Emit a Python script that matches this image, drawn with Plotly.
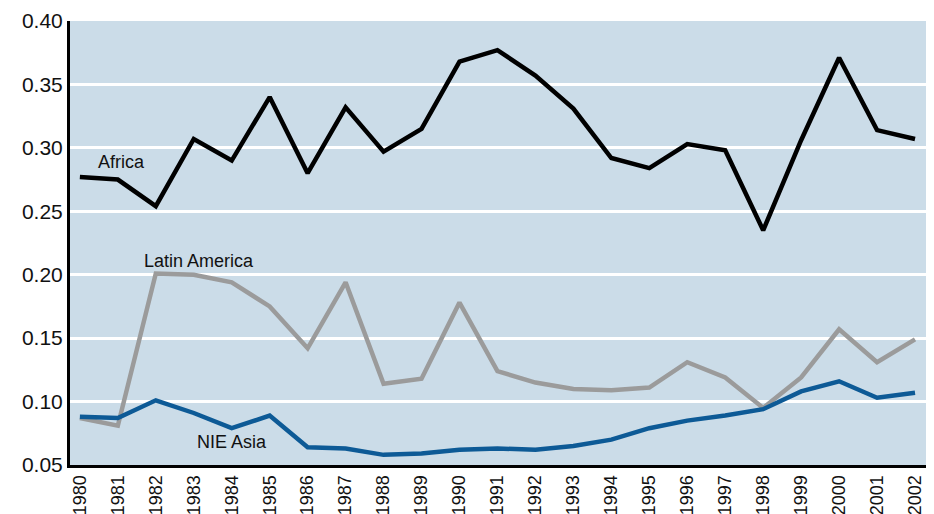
import plotly.graph_objs as go

# Data
years = list(range(1980, 2003))

africa = [0.277, 0.275, 0.254, 0.307, 0.290, 0.340, 0.280, 0.332, 0.297, 0.315,
          0.368, 0.377, 0.357, 0.331, 0.292, 0.284, 0.303, 0.298, 0.235, 0.306,
          0.371, 0.314, 0.307]

latin_america = [0.087, 0.081, 0.201, 0.200, 0.194, 0.175, 0.142, 0.194, 0.114, 0.118,
                 0.178, 0.124, 0.115, 0.110, 0.109, 0.111, 0.131, 0.119, 0.095, 0.119,
                 0.157, 0.131, 0.149]

nie_asia = [0.088, 0.087, 0.101, 0.091, 0.079, 0.089, 0.064, 0.063, 0.058, 0.059,
            0.062, 0.063, 0.062, 0.065, 0.070, 0.079, 0.085, 0.089, 0.094, 0.108,
            0.116, 0.103, 0.107]

y_ticks = [0.05, 0.10, 0.15, 0.20, 0.25, 0.30, 0.35, 0.40]

fig = go.Figure()

fig.add_trace(go.Scatter(x=years, y=latin_america, mode='lines', name='Latin America',
                         line=dict(color='#9b9b9b', width=4.5)))
fig.add_trace(go.Scatter(x=years, y=nie_asia, mode='lines', name='NIE Asia',
                         line=dict(color='#0d5a96', width=4.5)))
fig.add_trace(go.Scatter(x=years, y=africa, mode='lines', name='Africa',
                         line=dict(color='#000000', width=4.5)))

# series labels
labels = [('Africa', 1980.42, 0.289), ('Latin America', 1981.63, 0.211), ('NIE Asia', 1983.03, 0.068)]
for txt, xx, yy in labels:
    fig.add_annotation(x=xx, y=yy, text=txt, showarrow=False, xanchor='left',
                       font=dict(size=18, color='#111111'))

# page body has an 8px margin, so the figure is drawn 8px smaller
fig.update_layout(
    width=926, height=506,
    margin=dict(l=62, r=0, t=13, b=49, autoexpand=False),
    plot_bgcolor='#cbdce8',
    paper_bgcolor='white',
    showlegend=False,
    font=dict(family='Liberation Sans, Arial, sans-serif', color='#111111'),
)

fig.update_xaxes(
    range=[1979.74, 2002.5],
    tickvals=years, ticktext=[str(y) for y in years],
    tickangle=-90, tickfont=dict(size=18),
    showgrid=False, zeroline=False,
    showline=True, linecolor='black', linewidth=3,
    ticks='', automargin=False, ticklabeloverflow='allow',
)
fig.update_yaxes(
    range=[0.05, 0.40],
    tickvals=y_ticks, ticktext=['%.2f' % v for v in y_ticks],
    tickfont=dict(size=21),
    showgrid=True, gridcolor='white', gridwidth=2.5,
    zeroline=False,
    showline=True, linecolor='black', linewidth=3,
    ticks='', automargin=False, ticklabeloverflow='allow',
)

fig.write_html("out.html")
